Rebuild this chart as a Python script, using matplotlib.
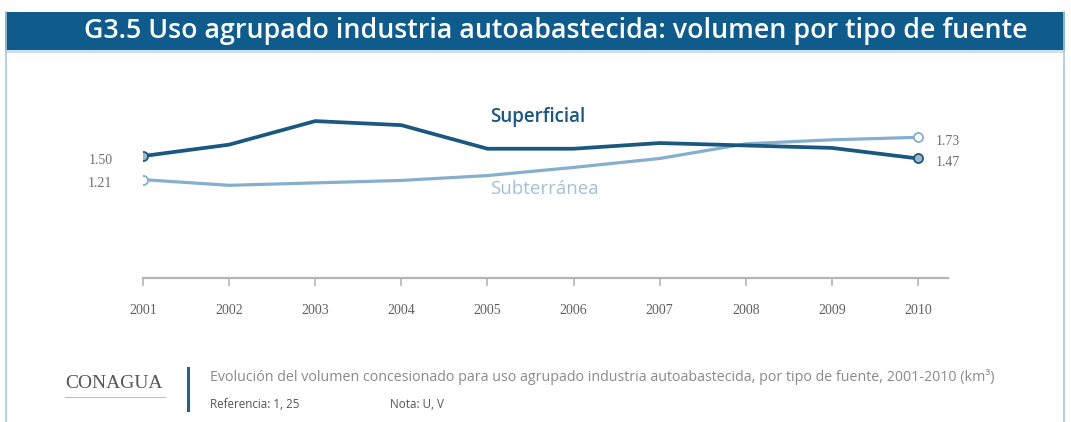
import matplotlib.pyplot as plt
from matplotlib.patches import Rectangle
from matplotlib.lines import Line2D

# volumen concesionado, uso agrupado industria autoabastecida (km3)
years = [2001, 2002, 2003, 2004, 2005, 2006, 2007, 2008, 2009, 2010]
superficial = [1.50, 1.64, 1.93, 1.88, 1.59, 1.59, 1.66, 1.63, 1.60, 1.47]
subterranea = [1.21, 1.14, 1.17, 1.20, 1.26, 1.36, 1.47, 1.65, 1.70, 1.73]
year_labels = [str(y) for y in years]

W, H = 1071, 422
dark_blue = '#0f5c8c'
sup_color = '#1a5880'
sub_color = '#86aecd'
grey = '#707070'


def px(x, y):
    # pixel position (from top-left) -> figure fraction
    return x / W, 1 - y / H


fig = plt.figure(figsize=(W / 100, H / 100), dpi=100)
fig.patch.set_facecolor('white')

# marco y barra de título
fig.add_artist(Rectangle(px(5, 50), 1060 / W, 38 / H, transform=fig.transFigure,
                         facecolor=dark_blue, edgecolor='none'))
fig.add_artist(Rectangle(px(5, 53), 1060 / W, 3 / H, transform=fig.transFigure,
                         facecolor='#c9e0ee', edgecolor='none'))
for xx in (6, 1064):
    fig.add_artist(Line2D([xx / W, xx / W], [0, 1 - 12 / H], transform=fig.transFigure,
                          color='#a8c8dd', lw=1.2))
fig.text(*px(84, 31), 'G3.5 Uso agrupado industria autoabastecida: volumen por tipo de fuente',
         color='white', fontsize=19.3, fontfamily='Open Sans', fontweight='semibold',
         ha='left', va='center')

# área del gráfico
x0, x1 = 143, 948
y_axis, y_top = 278, 100
step = (918 - 143) / 9
ax = fig.add_axes([x0 / W, 1 - y_axis / H, (x1 - x0) / W, (y_axis - y_top) / H])
ax.set_xlim(2001, 2001 + (x1 - x0) / step)
ax.set_ylim(0, (y_axis - y_top) / 81.3)
ax.patch.set_alpha(0)

ax.plot(years, subterranea, color=sub_color, lw=2.3, solid_joinstyle='round', zorder=2)
ax.plot(years, superficial, color=sup_color, lw=2.7, solid_joinstyle='round', zorder=3)
for series, col, face in ((subterranea, sub_color, 'white'), (superficial, sup_color, '#a3b8c7')):
    ax.plot([years[0], years[-1]], [series[0], series[-1]], 'o', ms=6.5,
            mfc=face, mec=col, mew=1.3, zorder=4)

for s in ('top', 'right', 'left'):
    ax.spines[s].set_visible(False)
ax.spines['bottom'].set_color('#b5b5b5')
ax.spines['bottom'].set_linewidth(1.6)
ax.set_yticks([])
ax.set_xticks(years)
ax.set_xticklabels(year_labels, fontfamily='Liberation Serif', fontsize=10, color='#606060')
ax.tick_params(axis='x', direction='out', length=6, width=1.2, color='#b5b5b5', pad=13)

# etiquetas de valores extremos
lab = dict(fontfamily='Liberation Serif', fontsize=10, color=grey, va='center')
ax.annotate(f'{superficial[0]:.2f}', (years[0], superficial[0]), xytext=(-22, -3),
            textcoords='offset points', ha='right', **lab)
ax.annotate(f'{subterranea[0]:.2f}', (years[0], subterranea[0]), xytext=(-22, -3),
            textcoords='offset points', ha='right', **lab)
ax.annotate(f'{subterranea[-1]:.2f}', (years[-1], subterranea[-1]), xytext=(13, -3),
            textcoords='offset points', ha='left', **lab)
ax.annotate(f'{superficial[-1]:.2f}', (years[-1], superficial[-1]), xytext=(13, -3),
            textcoords='offset points', ha='left', **lab)

# nombres de las series
fig.text(*px(490, 117), 'Superficial', color=sup_color, fontsize=13.5,
         fontfamily='Open Sans', fontweight='semibold', ha='left', va='center')
fig.text(*px(490, 189), 'Subterránea', color='#a3c0d6', fontsize=13.5,
         fontfamily='Open Sans', ha='left', va='center')

# pie
fig.text(*px(65, 383), 'CONAGUA', fontfamily='Liberation Serif', fontsize=14,
         color='#555555', ha='left', va='center')
fig.add_artist(Line2D([65 / W, 165 / W], [1 - 397 / H, 1 - 397 / H], transform=fig.transFigure,
                      color='#d9b3b3', lw=0.8))
fig.add_artist(Line2D([188 / W, 188 / W], [1 - 368 / H, 1 - 410 / H], transform=fig.transFigure,
                      color='#2a5f86', lw=2.2))
fig.text(*px(210, 377),
         'Evolución del volumen concesionado para uso agrupado industria autoabastecida, '
         'por tipo de fuente, 2001-2010 (km³)',
         fontfamily='Open Sans', fontsize=10.3, color='#8a8a8a', ha='left', va='center')
fig.text(*px(210, 405), 'Referencia: 1, 25', fontfamily='Open Sans', fontsize=8.4,
         color='#555555', ha='left', va='center')
fig.text(*px(390, 405), 'Nota: U, V', fontfamily='Open Sans', fontsize=8.4,
         color='#555555', ha='left', va='center')

fig.savefig('out.png', dpi=100)
